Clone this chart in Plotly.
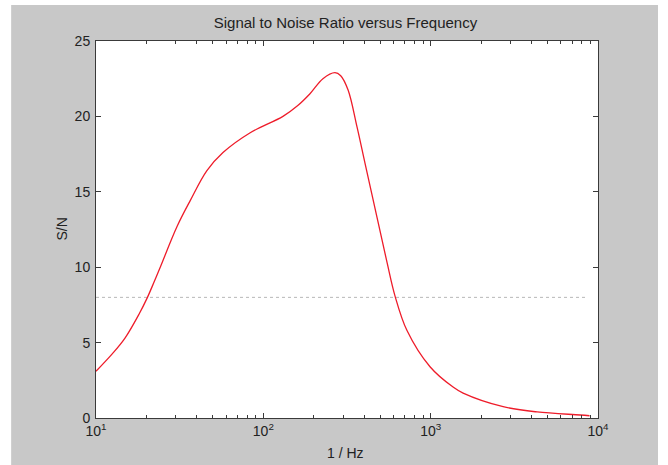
import plotly.graph_objects as go

# ---- data ----
freq_hz = [10, 12.5, 14.9, 18.1, 20.2, 22.2, 24.2, 30.5, 36.5, 46, 57.4, 83, 131, 160, 190, 227,
           268, 290, 321, 363, 405, 478, 549, 612, 722, 991, 1361, 1563,
           2710, 4325, 7816, 8900]
snr = [3.1, 4.25, 5.3, 6.9, 7.95, 9.0, 10.0, 12.7, 14.4, 16.4, 17.6, 18.9, 20.0, 20.7, 21.5, 22.5,
       22.9, 22.7, 21.75, 19.3, 16.9, 13.3, 10.3, 8.1, 5.8, 3.4, 2.05, 1.65,
       0.75, 0.4, 0.2, 0.15]
threshold = 8
threshold_x = [10, 8600]

x_major = [10, 100, 1000, 10000]
x_major_text = ["10<sup>1</sup>", "10<sup>2</sup>", "10<sup>3</sup>", "10<sup>4</sup>"]
x_minor = [m * d for d in (10, 100, 1000) for m in range(2, 10)]
y_ticks = [0, 5, 10, 15, 20, 25]

title_text = "Signal to Noise Ratio versus Frequency"
x_label = "1 / Hz"
y_label = "S/N"

GREY = "#c8c8c8"
AX = "#3a3a3a"
FONT = "Liberation Sans, Arial, sans-serif"

fig = go.Figure()
fig.add_trace(go.Scatter(x=threshold_x, y=[threshold, threshold], mode="lines",
                         line=dict(color="#b8b8b8", width=1, dash="dot"),
                         showlegend=False, hoverinfo="skip"))
fig.add_trace(go.Scatter(x=freq_hz, y=snr, mode="lines",
                         line=dict(color="#ee1c2a", width=1.3, shape="spline", smoothing=1.0),
                         showlegend=False))

fig.update_layout(
    width=668, height=465,
    margin=dict(l=96, r=70, t=41, b=47),
    paper_bgcolor="white",
    plot_bgcolor="white",
    font=dict(family=FONT, size=14, color="#222222"),
    title=dict(text=title_text, x=0.497, xref="paper", xanchor="center",
               y=1 - 23 / 465, yref="container", yanchor="middle",
               font=dict(size=15, color="#222222")),
    shapes=[
        dict(type="rect", xref="paper", yref="paper", x0=-0.169, x1=1.1195,
             y0=-0.3, y1=1.0955, fillcolor=GREY, line=dict(width=0), layer="below"),
        dict(type="rect", xref="paper", yref="paper", x0=0, x1=1,
             y0=0, y1=1, fillcolor="white", line=dict(width=0), layer="below"),
    ],
    annotations=[
        dict(text=y_label, xref="paper", yref="paper", x=-0.0697, y=0.5, textangle=-90,
             showarrow=False, xanchor="center", yanchor="middle", font=dict(size=14)),
        dict(text=x_label, xref="paper", yref="paper", x=0.497, y=-0.093,
             showarrow=False, xanchor="center", yanchor="middle", font=dict(size=14)),
    ],
)

fig.update_xaxes(type="log", range=[1, 4], tickmode="array", tickvals=x_major,
                 ticktext=x_major_text, ticks="inside", ticklen=5, tickcolor=AX,
                 showline=True, linecolor=AX, linewidth=1, mirror="ticks",
                 showgrid=False, zeroline=False,
                 minor=dict(tickmode="array", tickvals=x_minor, ticks="inside",
                            ticklen=3, tickcolor=AX, showgrid=False),
                 tickfont=dict(size=14))
fig.update_yaxes(range=[0, 25], tickmode="array", tickvals=y_ticks, ticks="inside",
                 ticklen=5, tickcolor=AX, showline=True, linecolor=AX, linewidth=1,
                 mirror="ticks", showgrid=False, zeroline=False,
                 ticklabelstandoff=2, tickfont=dict(size=14))

fig.write_html("out.html")
